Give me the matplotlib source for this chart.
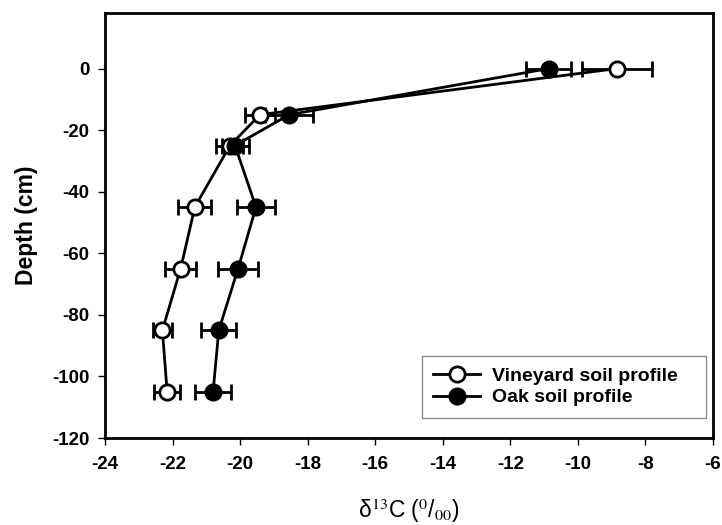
import matplotlib.pyplot as plt

plt.rcParams['font.family'] = ['Liberation Sans', 'DejaVu Sans']
plt.rcParams['axes.unicode_minus'] = False
plt.rcParams['mathtext.fontset'] = 'stix'

depth = [0, -15, -25, -45, -65, -85, -105]

# vineyard soil profile
vin_d13c = [-8.84, -19.41, -20.3, -21.34, -21.76, -22.3, -22.16]
vin_err = [1.04, 0.45, 0.4, 0.49, 0.45, 0.28, 0.38]

# oak soil profile
oak_d13c = [-10.86, -18.55, -20.15, -19.53, -20.06, -20.63, -20.8]
oak_err = [0.67, 0.7, 0.4, 0.55, 0.6, 0.52, 0.53]

xticks = list(range(-24, -5, 2))
yticks = list(range(-120, 1, 20))

fig = plt.figure(figsize=(7.22, 5.25), dpi=100)
ax = fig.add_axes([0.1454, 0.1657, 0.8421, 0.8093])

ax.errorbar(vin_d13c, depth, xerr=vin_err, color='black', lw=2, marker='o',
            ms=11, mfc='white', mec='black', mew=2, capsize=6, capthick=2,
            elinewidth=2, label='Vineyard soil profile', zorder=3)
ax.errorbar(oak_d13c, depth, xerr=oak_err, color='black', lw=2, marker='o',
            ms=11, mfc='black', mec='black', mew=2, capsize=6, capthick=2,
            elinewidth=2, label='Oak soil profile', zorder=3)

ax.set_xlim(-24, -6)
ax.set_ylim(-120, 18)
ax.set_xticks(xticks)
ax.set_yticks(yticks)
ax.tick_params(direction='out', length=5, width=1, labelsize=13.5)
ax.tick_params(axis='x', pad=8)
ax.tick_params(axis='y', pad=6)
for lbl in ax.get_xticklabels() + ax.get_yticklabels():
    lbl.set_fontweight('bold')
for s in ax.spines.values():
    s.set_linewidth(2)

ax.set_ylabel('Depth (cm)', fontsize=16.5, fontweight='bold', labelpad=10)
ax.set_xlabel(r'δ$^{13}$C ($^{0}$/$_{00}$)', fontsize=16.5, labelpad=17)

handles, labels = ax.get_legend_handles_labels()
handles = [h[0] for h in handles]
leg = ax.legend(handles, labels, loc='lower left',
                bbox_to_anchor=(0.521, 0.047, 0.467, 0.2), mode='expand',
                frameon=True, fancybox=False, edgecolor='#707070',
                prop={'weight': 'bold', 'size': 14}, handlelength=2.4,
                handletextpad=0.6, borderpad=0.6, labelspacing=0.2,
                borderaxespad=0)
leg.get_frame().set_linewidth(1)

fig.savefig('out.png', dpi=100)
